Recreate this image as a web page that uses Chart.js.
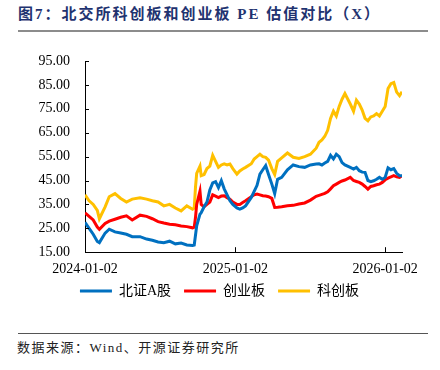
<!DOCTYPE html>
<html><head><meta charset="utf-8">
<script src="https://cdn.jsdelivr.net/npm/chart.js@4/dist/chart.umd.min.js"></script>
<style>
html,body{margin:0;padding:0;background:#fff;width:440px;height:370px;overflow:hidden;}
#title{position:absolute;left:18px;top:2px;font-family:"Liberation Serif","Noto Sans CJK SC",serif;font-weight:bold;font-size:15px;letter-spacing:2px;color:#1F3370;white-space:nowrap;}
#rule1{position:absolute;left:18px;top:30px;width:410px;height:2px;background:#8c8c8c;}
#rule2{position:absolute;left:18px;top:333px;width:410px;height:1px;background:#555;}
#source{position:absolute;left:17px;top:337px;font-family:"Liberation Serif","Noto Sans CJK SC",serif;font-size:13px;letter-spacing:1.5px;color:#222;white-space:nowrap;}
#wrap{position:absolute;left:0;top:0;width:440px;height:330px;}
</style></head>
<body>
<div id="title">图7：北交所科创板和创业板 PE 估值对比（X）</div>
<div id="rule1"></div>
<div id="wrap"><canvas id="c" width="440" height="330"></canvas></div>
<div id="rule2"></div>
<div id="source">数据来源：Wind、开源证券研究所</div>
<script>
const dates = ["2024-01-02","2024-01-12","2024-01-22","2024-02-01","2024-02-06","2024-02-20","2024-03-01","2024-03-15","2024-03-29","2024-04-12","2024-04-26","2024-05-15","2024-05-31","2024-06-14","2024-06-28","2024-07-12","2024-07-26","2024-08-09","2024-08-23","2024-09-06","2024-09-20","2024-09-24","2024-09-27","2024-09-30","2024-10-08","2024-10-11","2024-10-18","2024-10-25","2024-11-01","2024-11-08","2024-11-15","2024-11-22","2024-11-29","2024-12-06","2024-12-13","2024-12-20","2024-12-27","2025-01-06","2025-01-13","2025-01-20","2025-01-27","2025-02-10","2025-02-17","2025-02-24","2025-03-03","2025-03-10","2025-03-17","2025-03-24","2025-04-01","2025-04-08","2025-04-15","2025-04-25","2025-05-09","2025-05-23","2025-06-06","2025-06-20","2025-07-04","2025-07-18","2025-07-25","2025-08-01","2025-08-08","2025-08-15","2025-08-22","2025-08-29","2025-09-05","2025-09-12","2025-09-19","2025-09-26","2025-10-09","2025-10-17","2025-10-24","2025-10-31","2025-11-07","2025-11-14","2025-11-21","2025-11-28","2025-12-05","2025-12-12","2025-12-19","2025-12-26","2026-01-02","2026-01-09","2026-01-16","2026-01-23","2026-01-30","2026-02-06","2026-02-12"];

const bse = [27.5,25,22.5,19.5,19.0,23,24.6,23.5,23.0,22.5,21.5,21.5,20.5,20.0,19.3,19.0,19.6,18.5,18.8,18.0,17.8,18.0,22,26,30.9,31.5,34,36,41,44,44.5,42,44.9,41.5,39,36.5,35,33.5,33,33.5,34.4,37.9,40.5,43,47.7,49.5,51.2,47.5,43.5,39.5,45.5,46.3,49.5,51.5,50.8,50.5,51.5,51.9,52,51.5,52.3,53,55.5,54,56,55,52.5,51.5,50.5,49.8,50.5,49.1,48.5,48.4,45,44.5,44.9,45.5,46.3,45.5,46.3,50.3,49.5,50,48,47,47];

const chinext = [31.5,30,28.5,25.5,24.6,27,28,28.8,29.6,30.2,28.5,30.5,30,29,27.8,27.2,26.7,26.5,26,25.7,25.2,25.5,29.4,35,40.5,35,34,35,36,39,38.5,37.9,38.5,38.6,37.8,37.2,36,35,35,35.8,36.5,38.2,39,39.3,39,38.6,38.5,38.2,37.5,33.7,33.8,34,34.4,34.6,35.2,35.6,36.8,38.4,38.8,39.2,39.6,40.3,41.5,42.8,43.5,44.2,44.8,45.2,46.3,45,44.6,44.2,43.5,42.5,41.4,42.5,42.8,43.2,43.5,44.2,45.3,46,46.5,47,46.5,46.3,47];

const star = [39,36.5,35,32.5,29,34,38.2,39.5,37.5,36,37.2,37.8,37.2,36.5,36,34.4,35,33.5,32.3,34.4,33,33.5,42,48,51,47,47.5,50,51,55.5,53,50.5,51.5,52,51.5,51.9,50,47.7,49,49.8,50.5,52,54,55,56,55,54.7,53.5,50,47.5,53,54.5,56.5,54.7,54.2,55,56,58.5,61,62,63.5,66,71,74,72,76,79,81.4,77,74,78.6,77,74.5,71,70,71.6,72,73,72,74,76,83.5,85.5,86,82,80.5,82.1];

const seriesNames = ["北证A股","创业板","科创板"];
const seriesColors = ["#0070C0","#FF0000","#FFC000"];
const xTickLabels = ["2024-01-02","2025-01-02","2026-01-02"];
const yTicks = [15,25,35,45,55,65,75,85,95];

const DAY = 86400000;
const t0 = Date.parse(dates[0] + "T00:00:00Z");
const dayOf = d => Math.round((Date.parse(d + "T00:00:00Z") - t0) / DAY);
const xs = dates.map(dayOf);
const mk = arr => arr.map((v, i) => ({x: xs[i], y: v}));

const innerTicks = {
  id: 'innerTicks',
  afterLayout(chart) {
    const lg = chart.legend;
    if (lg) { lg.top -= 16; lg.bottom -= 16; }
  },
  afterDatasetsDraw(chart) {
    const {ctx, chartArea, scales} = chart;
    ctx.save();
    ctx.strokeStyle = '#000';
    ctx.lineWidth = 1;
    ctx.beginPath();
    yTicks.forEach(v => {
      const y = Math.round(scales.y.getPixelForValue(v)) + 0.5;
      ctx.moveTo(chartArea.left, y); ctx.lineTo(chartArea.left + 4, y);
    });
    xTickLabels.slice(1).forEach(d => {
      const x = Math.round(scales.x.getPixelForValue(dayOf(d))) + 0.5;
      ctx.moveTo(x, chartArea.bottom); ctx.lineTo(x, chartArea.bottom - 5);
    });
    ctx.stroke();
    ctx.restore();
  }
};

const tickFont = {family: "'Liberation Serif','Times New Roman',serif", size: 14};

new Chart(document.getElementById('c'), {
  type: 'line',
  data: {
    datasets: [bse, chinext, star].map((arr, i) => ({
      label: seriesNames[i],
      data: mk(arr),
      borderColor: seriesColors[i],
      backgroundColor: seriesColors[i],
      borderWidth: 3,
      pointRadius: 0,
      tension: 0
    }))
  },
  options: {
    responsive: false,
    animation: false,
    events: [],
    layout: {padding: {left: 37, right: 38, top: 61, bottom: 6}},
    plugins: {
      tooltip: {enabled: false},
      legend: {
        position: 'bottom',
        labels: {
          boxWidth: 32, boxHeight: 3, padding: 13,
          color: '#000',
          font: {family: "'Liberation Serif','Noto Sans CJK SC',serif", size: 14},
          generateLabels(chart) {
            const items = Chart.defaults.plugins.legend.labels.generateLabels(chart);
            items.forEach(it => { it.lineWidth = 0; it.fillStyle = seriesColors[it.datasetIndex]; it.strokeStyle = seriesColors[it.datasetIndex]; });
            return items;
          }
        }
      }
    },
    scales: {
      x: {
        type: 'linear',
        min: 0,
        max: xs[xs.length - 1],
        grid: {display: false, drawTicks: false},
        border: {display: true, color: '#000', width: 1},
        afterBuildTicks: s => { s.ticks = xTickLabels.map(d => ({value: dayOf(d)})); },
        ticks: {
          autoSkip: false, maxRotation: 0, padding: 9, color: '#000', font: tickFont,
          callback: v => { const i = xTickLabels.findIndex(d => dayOf(d) === v); return i >= 0 ? xTickLabels[i] : ''; }
        }
      },
      y: {
        min: 15, max: 95,
        grid: {display: false, drawTicks: false},
        border: {display: true, color: '#000', width: 1},
        afterBuildTicks: s => { s.ticks = yTicks.map(v => ({value: v})); },
        afterFit: s => { s.width = 48; },
        ticks: {padding: 15, color: '#000', font: tickFont, callback: v => Number(v).toFixed(2)}
      }
    }
  },
  plugins: [innerTicks]
});
</script>
</body></html>
